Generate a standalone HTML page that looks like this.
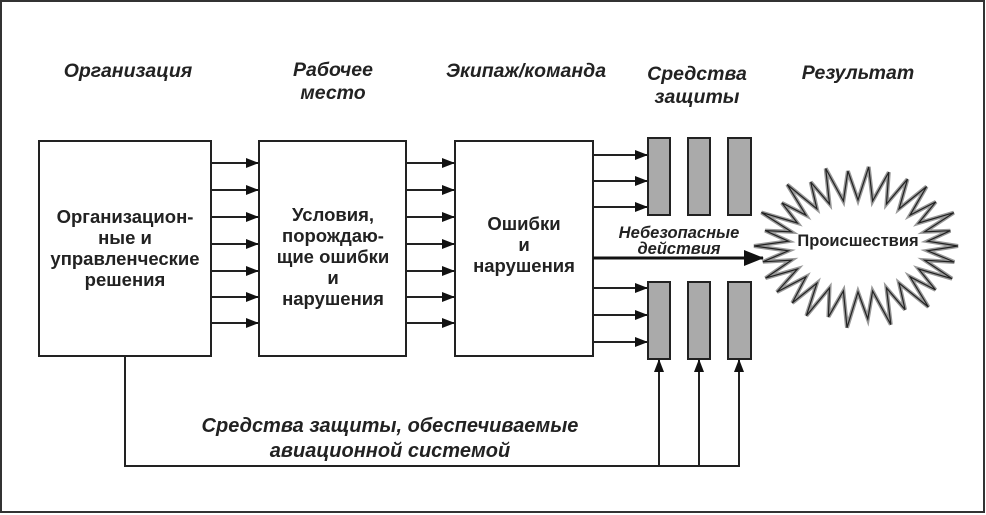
<!DOCTYPE html>
<html><head><meta charset="utf-8"><style>
html,body{margin:0;padding:0;background:#fff;}
svg{display:block;}
text{font-family:"Liberation Sans",sans-serif;font-weight:bold;fill:#222;}
.t{font-size:18.5px;text-anchor:middle;}
.h{font-size:19.5px;font-style:italic;text-anchor:middle;}
</style></head><body>
<svg id="s" width="986" height="515" viewBox="0 0 986 515" xmlns="http://www.w3.org/2000/svg">
<defs><marker id="a" markerWidth="13" markerHeight="10" refX="12" refY="5" orient="auto" markerUnits="userSpaceOnUse"><path d="M0,0 L13,5 L0,10 z" fill="#111"/></marker>
<marker id="b" markerWidth="20" markerHeight="16" refX="19" refY="8" orient="auto" markerUnits="userSpaceOnUse"><path d="M0,0 L20,8 L0,16 z" fill="#111"/></marker></defs>
<rect x="1" y="1" width="983" height="511" fill="none" stroke="#333" stroke-width="2"/>
<text class="h" x="128" y="77">Организация</text>
<text class="h" x="333" y="76">Рабочее</text><text class="h" x="333" y="99">место</text>
<text class="h" x="526" y="77">Экипаж/команда</text>
<text class="h" x="697" y="80">Средства</text><text class="h" x="697" y="103">защиты</text>
<text class="h" x="858" y="79">Результат</text>
<g fill="#fff" stroke="#222" stroke-width="2">
<rect x="39" y="141" width="172" height="215"/>
<rect x="259" y="141" width="147" height="215"/>
<rect x="455" y="141" width="138" height="215"/>
</g>
<g stroke="#222" stroke-width="2" marker-end="url(#a)" id="arr"></g>
<g fill="#aaa" stroke="#222" stroke-width="2">
<rect x="648" y="138" width="22" height="77"/><rect x="688" y="138" width="22" height="77"/><rect x="728" y="138" width="23" height="77"/>
<rect x="648" y="282" width="22" height="77"/><rect x="688" y="282" width="22" height="77"/><rect x="728" y="282" width="23" height="77"/>
</g>
<line x1="593" y1="258" x2="763" y2="258" stroke="#111" stroke-width="3" marker-end="url(#b)"/>
<polyline points="125,356 125,466 740,466" fill="none" stroke="#222" stroke-width="2"/>
<polygon id="burst" fill="#fff" stroke="#999" stroke-width="4" stroke-linejoin="miter"/>
<polygon id="burst2" fill="none" stroke="#222" stroke-width="1.2"/>
<text class="t" x="858" y="246" style="font-size:16.5px">Происшествия</text>
<text class="t" x="125" y="223">Организацион-</text>
<text class="t" x="125" y="244">ные  и</text>
<text class="t" x="125" y="265">управленческие</text>
<text class="t" x="125" y="286">решения</text>
<text class="t" x="333" y="221">Условия,</text>
<text class="t" x="333" y="242">порождаю-</text>
<text class="t" x="333" y="263">щие ошибки</text>
<text class="t" x="333" y="284">и</text>
<text class="t" x="333" y="305">нарушения</text>
<text class="t" x="524" y="230">Ошибки</text>
<text class="t" x="524" y="251">и</text>
<text class="t" x="524" y="272">нарушения</text>
<text class="h" x="679" y="238" style="font-size:16.5px">Небезопасные</text>
<text class="h" x="679" y="254" style="font-size:16.5px">действия</text>
<text class="h" x="390" y="432" style="font-size:20px">Средства защиты, обеспечиваемые</text>
<text class="h" x="390" y="457" style="font-size:20px">авиационной системой</text>
</svg>
<script>
var g=document.getElementById('arr'),h='';
[163,190,217,244,271,297,323].forEach(function(y){
h+='<line x1="211" y1="'+y+'" x2="258" y2="'+y+'"/><line x1="406" y1="'+y+'" x2="454" y2="'+y+'"/>';});
[155,181,207,288,315,342].forEach(function(y){h+='<line x1="593" y1="'+y+'" x2="647" y2="'+y+'"/>';});
[659,699,739].forEach(function(x){h+='<line x1="'+x+'" y1="466" x2="'+x+'" y2="360"/>';});
g.innerHTML=h;
var p=[],n=30;
for(var i=0;i<n*2;i++){var a=i*Math.PI/n,o=i%2==0;var j=o?(1+0.06*Math.sin(i*1.7)):1;var rx=o?100*j:70,ry=o?78*j:46;
p.push((858+rx*Math.cos(a)).toFixed(1)+','+(246+ry*Math.sin(a)).toFixed(1));}
document.getElementById('burst').setAttribute('points',p.join(' '));
document.getElementById('burst2').setAttribute('points',p.join(' '));
</script>
</body></html>
